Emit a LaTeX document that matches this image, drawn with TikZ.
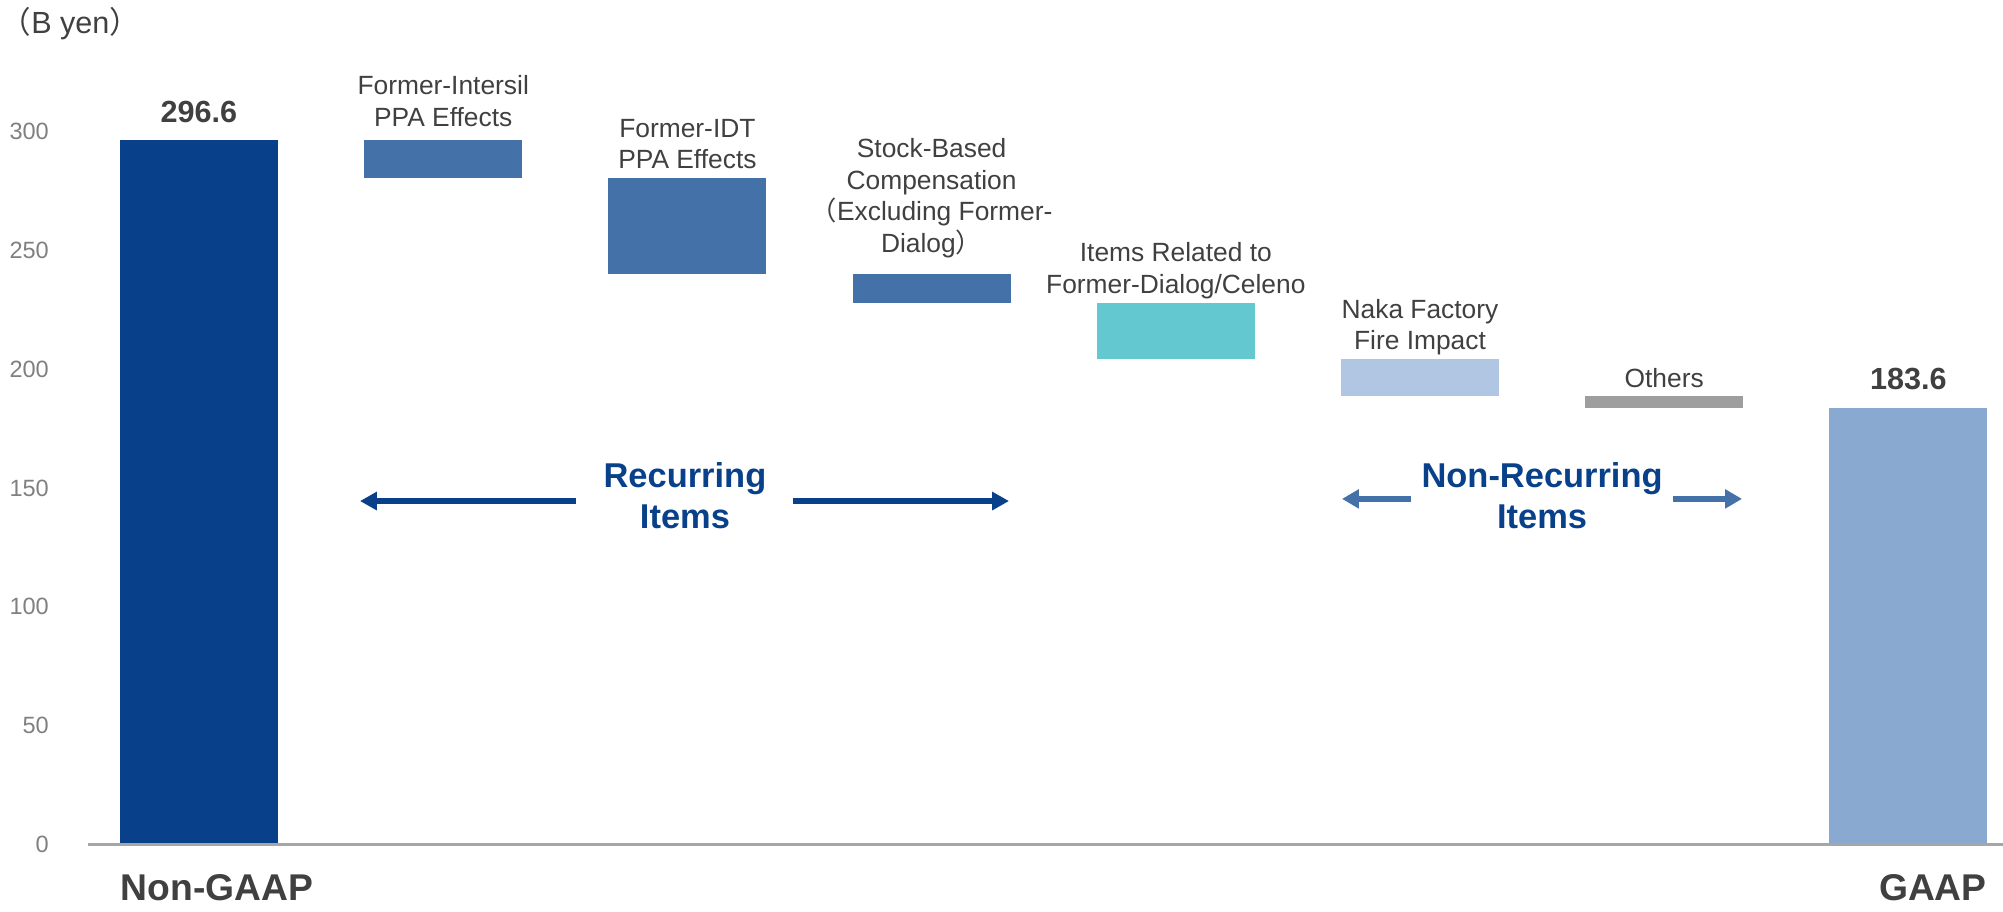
\documentclass[tikz,border=0pt]{standalone}
\usepackage{fontspec}
\setmainfont{Liberation Sans}
\newfontfamily\jpfont{Noto Sans CJK JP}
\usepackage{xcolor}
\definecolor{rsdark}{RGB}{8,65,138}
\definecolor{rsmid}{RGB}{68,114,168}
\definecolor{rsteal}{RGB}{99,200,207}
\definecolor{rslight}{RGB}{176,198,226}
\definecolor{rsgaap}{RGB}{137,169,208}
\definecolor{rsgray}{RGB}{158,158,158}
\definecolor{rstext}{RGB}{64,64,64}
\definecolor{rstick}{RGB}{128,128,128}
\definecolor{rsaxis}{RGB}{166,166,166}
\usetikzlibrary{arrows.meta,positioning}

\begin{document}
\begin{tikzpicture}[
    x=2.442cm, y=0.02376cm,
    ticklbl/.style={anchor=east, inner sep=0pt, text=rstick, font=\fontsize{6.7}{8}\selectfont},
    cat/.style={align=center, inner sep=0pt, anchor=south, text=rstext,
                font=\fontsize{7.5}{9}\selectfont},
    val/.style={inner sep=0pt, anchor=south, text=rstext, font=\fontsize{8.7}{10}\selectfont\bfseries},
    endlbl/.style={inner sep=0pt, text=rstext, font=\fontsize{10.6}{12}\selectfont\bfseries},
    grp/.style={align=center, inner sep=0pt, text=rsdark,
                font=\fontsize{9.8}{11.6}\selectfont\bfseries},
    recarrow/.style={draw=rsdark, line width=1.5pt, -{Triangle[width=5pt,length=4.8pt]}},
    nonrecarrow/.style={draw=rsmid, line width=1.9pt, -{Triangle[width=5.2pt,length=4.8pt]}},
    axisline/.style={draw=rsaxis, line width=0.75pt}
  ]
    \useasboundingbox (-0.8149,-28.45) rectangle (7.3874,355.4);

    % Unit and ticks
    \node[anchor=base west, inner sep=0pt, text=rstext, font=\fontsize{8.7}{10}\selectfont]
      (unit) at (-0.8149,341.4) {{\jpfont （}B yen{\jpfont ）}};
    \foreach \v in {0,50,...,300}
      \node[ticklbl] (tk\v) at (-0.612,\v) {\v};

    % Bars
    \fill[rsdark]   (-0.3235,0)     rectangle (0.3235,296.6);
    \fill[rsmid]    (0.6765,280.6)  rectangle (1.3235,296.6);
    \fill[rsmid]    (1.6765,240.2)  rectangle (2.3235,280.6);
    \fill[rsmid]    (2.6765,228.0)  rectangle (3.3235,240.2);
    \fill[rsteal]   (3.6765,204.4)  rectangle (4.3235,228.0);
    \fill[rslight]  (4.6765,188.8)  rectangle (5.3235,204.4);
    \fill[rsgray]   (5.6765,183.6)  rectangle (6.3235,188.8);
    \fill[rsgaap]   (6.6765,0)      rectangle (7.3235,183.6);

    \coordinate (t0) at (0,296.6);
    \coordinate (t1) at (1,296.6);
    \coordinate (t2) at (2,280.6);
    \coordinate (t3) at (3,240.2);
    \coordinate (t4) at (4,228.0);
    \coordinate (t5) at (5,204.4);
    \coordinate (t6) at (6,188.8);
    \coordinate (t7) at (7,183.6);

    % Axis
    \coordinate (ax0) at (-0.4545,0);
    \coordinate (ax1) at (7.3874,0);
    \draw[axisline] (ax0) -- (ax1);

    % Labels
    \node[val, above=4.6pt of t0] (v0) {296.6};
    \node[val, above=4.9pt of t7] (v7) {183.6};
    \node[cat, above=3.5pt of t1] (l1) {Former-Intersil\\PPA Effects};
    \node[cat, above=2.3pt of t2] (l2) {Former-IDT\\PPA Effects};
    \node[cat, above=4.3pt of t3] (l3) {Stock-Based\\Compensation\\{\jpfont （}Excluding Former-\\Dialog{\jpfont ）}};
    \node[cat, above=0.9pt of t4] (l4) {Items Related to\\Former-Dialog/Celeno};
    \node[cat, above=0.8pt of t5] (l5) {Naka Factory\\Fire Impact};
    \node[cat, above=2.1pt of t6] (l6) {Others};

    \node[endlbl, anchor=base west] (ng) at (-0.3235,-23.5) {Non-GAAP};
    \node[endlbl, anchor=base east] (gp) at (7.3235,-23.5) {GAAP};

    % Item groups
    \node[grp] (rec) at (1.99,146.8) {Recurring\\Items};
    \node[grp] (nrec) at (5.5,146.8) {Non-Recurring\\Items};

    \coordinate (ra) at (1.5438,144.5);
    \coordinate (rb) at (0.6593,144.5);
    \coordinate (rc) at (2.4324,144.5);
    \coordinate (rd) at (3.3170,144.5);
    \draw[recarrow] (ra) -- (rb);
    \draw[recarrow] (rc) -- (rd);

    \coordinate (na) at (4.9631,145.4);
    \coordinate (nb) at (4.6806,145.4);
    \coordinate (nc) at (6.0360,145.4);
    \coordinate (nd) at (6.3186,145.4);
    \draw[nonrecarrow] (na) -- (nb);
    \draw[nonrecarrow] (nc) -- (nd);
\end{tikzpicture}
\end{document}
